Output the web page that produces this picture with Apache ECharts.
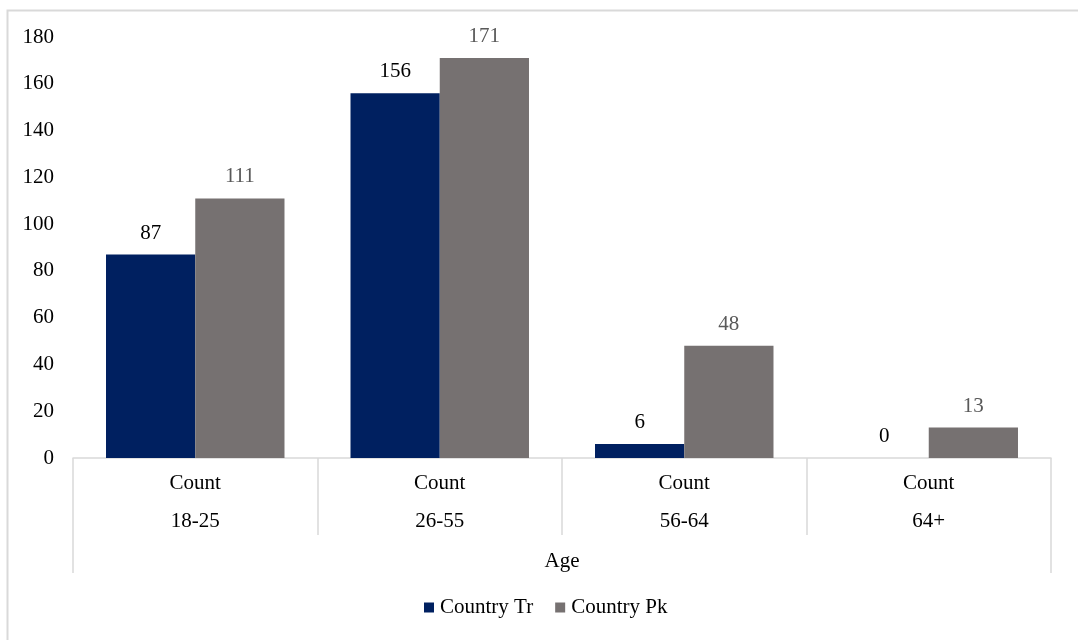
<!DOCTYPE html>
<html>
<head>
<meta charset="utf-8">
<style>
  html, body { margin: 0; padding: 0; background: #ffffff; }
  #chart { width: 1078px; height: 640px; }
</style>
<script src="https://cdn.jsdelivr.net/npm/echarts@6/dist/echarts.min.js"></script>
</head>
<body>
<div id="chart"></div>
<script>
// Age groups on the horizontal axis; each group shows a "Count" row above the range
const ageGroups = ['18-25', '26-55', '56-64', '64+'];
const measureName = 'Count';
const axisTitle = 'Age';

// Respondent counts per age group
const countryTr = [87, 156, 6, 0];
const countryPk = [111, 171, 48, 13];

// Value axis ticks
const yMin = 0;
const yMax = 180;
const yStep = 20;

const FONT = '"Liberation Serif", "Times New Roman", serif';
const FS = 21;
const GRID_LINE = '#d9d9d9';

const chart = echarts.init(document.getElementById('chart'), null, { renderer: 'canvas' });

chart.setOption({
  backgroundColor: '#ffffff',
  animation: false,
  textStyle: { fontFamily: FONT },
  graphic: [{
    type: 'rect',
    left: 5, top: 8,
    shape: { width: 1100, height: 700 },
    style: { fill: 'none', stroke: GRID_LINE, lineWidth: 2 },
    silent: true
  }],
  grid: { left: 73, right: 27, top: 37, bottom: 182, containLabel: false },
  legend: {
    top: 597,
    left: 424,
    itemWidth: 10,
    itemHeight: 10,
    itemGap: 22,
    icon: 'rect',
    padding: 0,
    textStyle: { fontFamily: FONT, fontSize: FS, color: '#000000', padding: [0, 0, 0, 1] },
    data: ['Country Tr', 'Country Pk']
  },
  xAxis: [{
    type: 'category',
    data: ageGroups,
    position: 'bottom',
    boundaryGap: true,
    axisLine: { show: true, lineStyle: { color: GRID_LINE, width: 1.5 } },
    axisTick: { show: true, length: 77, interval: 0, lineStyle: { color: GRID_LINE, width: 1.5 } },
    axisLabel: {
      interval: 0,
      margin: 6,
      fontFamily: FONT,
      fontSize: FS,
      lineHeight: 38,
      color: '#000000',
      formatter: (v) => measureName + '\n' + v
    },
    splitLine: { show: false }
  }, {
    type: 'category',
    data: [axisTitle],
    position: 'bottom',
    boundaryGap: true,
    axisLine: { show: false },
    axisTick: { show: true, length: 115, interval: 0, lineStyle: { color: GRID_LINE, width: 1.5 } },
    axisLabel: {
      margin: 92,
      fontFamily: FONT,
      fontSize: FS,
      lineHeight: 22,
      color: '#000000'
    },
    splitLine: { show: false }
  }],
  yAxis: {
    type: 'value',
    min: yMin,
    max: yMax,
    interval: yStep,
    axisLine: { show: false },
    axisTick: { show: false },
    splitLine: { show: false },
    axisLabel: { margin: 19, fontFamily: FONT, fontSize: FS, color: '#000000' }
  },
  series: [{
    name: 'Country Tr',
    type: 'bar',
    xAxisIndex: 0,
    data: countryTr,
    barGap: '0%',
    barCategoryGap: '27%',
    itemStyle: { color: '#002060' },
    label: {
      show: true, position: 'top', distance: 11,
      fontFamily: FONT, fontSize: FS, color: '#000000'
    }
  }, {
    name: 'Country Pk',
    type: 'bar',
    xAxisIndex: 0,
    data: countryPk,
    barGap: '0%',
    barCategoryGap: '27%',
    itemStyle: { color: '#767171' },
    label: {
      show: true, position: 'top', distance: 11,
      fontFamily: FONT, fontSize: FS, color: '#595959'
    }
  }]
});
</script>
</body>
</html>
